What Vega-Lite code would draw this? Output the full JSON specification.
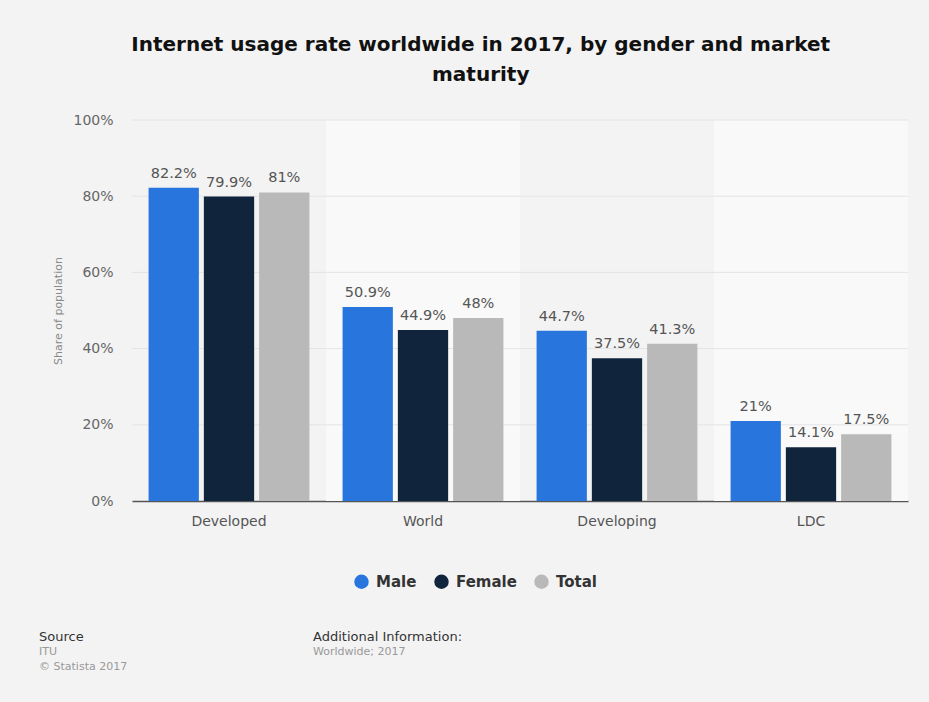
{
  "$schema": "https://vega.github.io/schema/vega-lite/v6.json",
  "background": "#f3f3f3",
  "padding": {"left": 39, "top": 35, "right": 21, "bottom": 33},
  "config": {"font": "DejaVu Sans", "view": {"stroke": null}},
  "bounds": "flush",
  "spacing": 136,
  "resolve": {"scale": {"color": "independent", "size": "independent", "x": "independent", "y": "independent"}},
  "datasets": {
    "usage": [
      {"market": "Developed", "gender": "Male", "value": 82.2},
      {"market": "Developed", "gender": "Female", "value": 79.9},
      {"market": "Developed", "gender": "Total", "value": 81},
      {"market": "World", "gender": "Male", "value": 50.9},
      {"market": "World", "gender": "Female", "value": 44.9},
      {"market": "World", "gender": "Total", "value": 48},
      {"market": "Developing", "gender": "Male", "value": 44.7},
      {"market": "Developing", "gender": "Female", "value": 37.5},
      {"market": "Developing", "gender": "Total", "value": 41.3},
      {"market": "LDC", "gender": "Male", "value": 21},
      {"market": "LDC", "gender": "Female", "value": 14.1},
      {"market": "LDC", "gender": "Total", "value": 17.5}
    ],
    "bands": [{"market": "World"}, {"market": "LDC"}],
    "grid": [{"v": 20}, {"v": 40}, {"v": 60}, {"v": 80}, {"v": 100}],
    "footer": [
      {"block": "Source", "line": 1, "role": "head", "text": "Source"},
      {"block": "Source", "line": 2, "role": "body", "text": "ITU"},
      {"block": "Source", "line": 3, "role": "body", "text": "© Statista 2017"},
      {"block": "Additional Information:", "line": 1, "role": "head", "text": "Additional Information:"},
      {"block": "Additional Information:", "line": 2, "role": "body", "text": "Worldwide; 2017"}
    ]
  },
  "vconcat": [
    {
      "width": 776,
      "height": 381,
      "title": {
        "text": ["Internet usage rate worldwide in 2017, by gender and market", "maturity"],
        "fontSize": 20,
        "fontWeight": "bold",
        "color": "#111111",
        "lineHeight": 30,
        "anchor": "middle",
        "frame": "bounds",
        "offset": 28
      },
      "layer": [
        {
          "data": {"name": "bands"},
          "mark": {"type": "bar", "color": "#f9f9f9"},
          "encoding": {
            "x": {"field": "market", "type": "nominal", "scale": {"domain": ["Developed", "World", "Developing", "LDC"], "paddingInner": 0, "paddingOuter": 0}},
            "y": {"datum": 100, "type": "quantitative", "scale": {"domain": [0, 100]}},
            "y2": {"datum": 0}
          }
        },
        {
          "data": {"name": "grid"},
          "mark": {"type": "rule", "color": "#e4e4e4", "strokeWidth": 1},
          "encoding": {
            "y": {"field": "v", "type": "quantitative"}
          }
        },
        {
          "data": {"name": "usage"},
          "mark": {"type": "bar"},
          "encoding": {
            "x": {
              "field": "market", "type": "nominal",
              "axis": {"title": null, "labelAngle": 0, "labelAlign": "center", "labelBaseline": "middle", "labelFontSize": 14, "labelColor": "#555555", "labelPadding": 20, "ticks": false, "domainColor": "#555555", "domainWidth": 1.5}
            },
            "xOffset": {"field": "gender", "type": "nominal", "scale": {"domain": ["Male", "Female", "Total"], "paddingInner": 0.09, "paddingOuter": 0.3}},
            "y": {
              "field": "value", "type": "quantitative",
              "axis": {"title": "Share of population", "values": [0, 20, 40, 60, 80, 100], "labelExpr": "datum.value + '%'", "grid": false, "domain": false, "ticks": false, "labelPadding": 19, "labelFontSize": 14, "labelColor": "#666666", "titleFontSize": 11, "titleFontWeight": "normal", "titleColor": "#888888", "titlePadding": 9}
            },
            "color": {
              "field": "gender", "type": "nominal",
              "scale": {"domain": ["Male", "Female", "Total"], "range": ["#2876dd", "#10253c", "#b9b9b9"]},
              "legend": {"orient": "none", "legendX": 222, "legendY": 454, "direction": "horizontal", "title": null, "symbolType": "circle", "symbolSize": 210, "symbolStrokeWidth": 0, "labelFontSize": 15, "labelFontWeight": "bold", "labelColor": "#333333", "columnPadding": 17, "labelOffset": 7}
            }
          }
        },
        {
          "data": {"name": "usage"},
          "transform": [{"calculate": "format(datum.value, '.1~f') + '%'", "as": "label"}],
          "mark": {"type": "text", "dy": -14, "fontSize": 14.5, "color": "#555555"},
          "encoding": {
            "x": {"field": "market", "type": "nominal"},
            "xOffset": {"field": "gender", "type": "nominal"},
            "y": {"field": "value", "type": "quantitative"},
            "text": {"field": "label"}
          }
        }
      ]
    },
    {
      "width": 274,
      "height": 30,
      "data": {"name": "footer"},
      "mark": {"type": "text", "align": "left", "baseline": "middle"},
      "encoding": {
        "x": {"field": "block", "type": "nominal", "sort": null, "scale": {"type": "point", "padding": 0, "range": [-93, 181]}, "axis": null},
        "y": {"field": "line", "type": "ordinal", "scale": {"type": "point", "padding": 0}, "axis": null},
        "text": {"field": "text"},
        "size": {"field": "role", "type": "nominal", "scale": {"domain": ["head", "body"], "range": [13, 11]}, "legend": null},
        "color": {"field": "role", "type": "nominal", "scale": {"domain": ["head", "body"], "range": ["#333333", "#999999"]}, "legend": null}
      }
    }
  ]
}
